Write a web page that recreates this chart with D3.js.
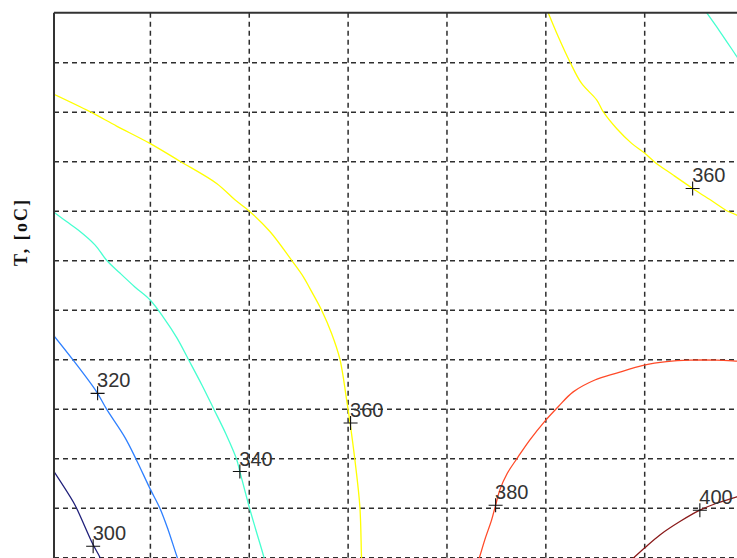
<!DOCTYPE html>
<html>
<head>
<meta charset="utf-8">
<script src="https://cdn.jsdelivr.net/npm/d3@7"></script>
<style>
  html, body { margin: 0; padding: 0; background: #ffffff; overflow: hidden; }
  svg { display: block; }
</style>
</head>
<body>
<svg id="chart" width="737" height="558"></svg>
<script>
// Contour levels and their colours (jet-like ramp)
const levels = [300, 320, 340, 360, 380, 400];
const levelColors = ["#1f1f7a", "#2f80ff", "#46ffd0", "#ffff00", "#ff4a28", "#8a1a1a"];

// Grid tick positions (axis units)
const xTicks = [1, 2, 3, 4, 5, 6, 7];
const yTicks = [-1, 0, 1, 2, 3, 4, 5, 6, 7, 8, 9, 10];

// Contour polylines, [x, y] in axis units
const contour300 = [[0.03, 1.73], [0.224, 1.12], [0.275, 0.92], [0.426, 0.25], [0.494, 0.0], [0.565, -0.36]];
const contour320 = [[0.03, 4.47], [0.224, 3.98], [0.461, 3.34], [0.562, 2.99], [0.747, 2.42], [0.865, 1.96],
                    [1.0, 1.39], [1.101, 0.99], [1.185, 0.55], [1.276, 0.0], [1.344, -0.36]];
const contour340a = [[0.03, 6.97], [0.157, 6.78], [0.275, 6.61], [0.444, 6.31], [0.562, 6.0], [0.697, 5.74],
                     [0.848, 5.46], [1.0, 5.2], [1.142, 4.83], [1.273, 4.43], [1.394, 3.98], [1.526, 3.48],
                     [1.647, 2.99], [1.769, 2.49], [1.877, 1.98], [1.91, 1.73], [2.004, 1.02], [2.072, 0.55],
                     [2.153, 0.0], [2.194, -0.36]];
const contour340b = [[6.631, 11.0], [6.766, 10.62], [6.938, 10.11], [7.07, 9.72]];
const contour360a = [[0.03, 9.35], [0.393, 9.0], [0.663, 8.71], [1.0, 8.36], [1.303, 8.0], [1.675, 7.55],
                     [1.86, 7.22], [2.001, 7.0], [2.214, 6.58], [2.433, 6.0], [2.551, 5.67], [2.618, 5.43],
                     [2.737, 4.99], [2.838, 4.52], [2.922, 4.0], [2.99, 3.18], [3.023, 2.74], [3.074, 1.96],
                     [3.124, 1.02], [3.141, -0.02], [3.15, -0.36]];
const contour360b = [[5.029, 11.0], [5.13, 10.52], [5.248, 10.01], [5.367, 9.57], [5.519, 9.24], [5.585, 9.0],
                     [5.721, 8.66], [5.873, 8.36], [6.0, 8.17], [6.108, 7.98], [6.293, 7.72], [6.49, 7.45],
                     [6.698, 7.18], [6.834, 7.0], [6.938, 6.91], [7.17, 6.65]];
const contour380 = [[4.277, -0.36], [4.331, -0.02], [4.394, 0.39], [4.456, 0.75], [4.497, 1.05], [4.54, 1.36],
                    [4.614, 1.69], [4.726, 2.03], [4.844, 2.37], [4.996, 2.75], [5.13, 3.04], [5.282, 3.34],
                    [5.501, 3.58], [5.721, 3.72], [6.0, 3.88], [6.227, 3.95], [6.462, 3.98], [6.732, 3.98],
                    [6.938, 3.96], [7.17, 3.93]];
const contour400 = [[5.694, -0.36], [5.889, -0.02], [6.0, 0.18], [6.159, 0.45], [6.361, 0.72], [6.563, 0.95],
                    [6.732, 1.09], [6.938, 1.22], [7.17, 1.36]];

const contourLines = [
  { level: 300, points: contour300 },
  { level: 320, points: contour320 },
  { level: 340, points: contour340a },
  { level: 340, points: contour340b },
  { level: 360, points: contour360a },
  { level: 360, points: contour360b },
  { level: 380, points: contour380 },
  { level: 400, points: contour400 }
];

// Inline contour labels: level and anchor point (axis units)
const labelLevels = [300, 320, 340, 360, 360, 380, 400];
const labelX = [0.426, 0.471, 1.91, 3.03, 6.49, 4.497, 6.563];
const labelY = [0.22, 3.31, 1.73, 2.71, 7.45, 1.05, 0.95];

const yAxisTitle = "T, [oC]";

const svg = d3.select("#chart");

const plotLeft = 54, plotTop = 12.7, unitX = 98.86, unitY = 49.5;
const x = d3.scaleLinear().domain([0.03, 8]).range([plotLeft, plotLeft + 7.97 * unitX]);
const y = d3.scaleLinear().domain([-1, 11]).range([plotTop + 12 * unitY, plotTop]);
const color = d3.scaleOrdinal().domain(levels).range(levelColors);

const plotW = x.range()[1] - plotLeft;
const plotH = y.range()[0] - plotTop;

svg.append("defs").append("clipPath").attr("id", "plotClip")
  .append("rect").attr("x", plotLeft).attr("y", plotTop).attr("width", plotW).attr("height", plotH);

// Dashed grid via axes with full-length ticks
const gridStyle = g => {
  g.select(".domain").remove();
  g.selectAll("text").remove();
  g.selectAll("line")
    .attr("stroke", "#2e2e2e")
    .attr("stroke-width", 1.5)
    .attr("stroke-dasharray", "5,4");
};

svg.append("g")
  .attr("transform", `translate(0,${plotTop})`)
  .call(d3.axisTop(x).tickValues(xTicks).tickSize(-plotH).tickFormat(""))
  .call(gridStyle);

svg.append("g")
  .attr("transform", `translate(${plotLeft},0)`)
  .call(d3.axisLeft(y).tickValues(yTicks).tickSize(-plotW).tickFormat(""))
  .call(gridStyle);

// Contour lines
const line = d3.line().x(d => x(d[0])).y(d => y(d[1])).curve(d3.curveCatmullRom.alpha(0.5));
svg.append("g").attr("clip-path", "url(#plotClip)")
  .selectAll("path")
  .data(contourLines)
  .join("path")
  .attr("d", d => line(d.points))
  .attr("fill", "none")
  .attr("stroke", d => color(d.level))
  .attr("stroke-width", 1.3);

// Axes box (top and left edges visible)
svg.append("line")
  .attr("x1", plotLeft).attr("x2", x.range()[1]).attr("y1", plotTop).attr("y2", plotTop)
  .attr("stroke", "#333").attr("stroke-width", 2);
svg.append("line")
  .attr("x1", plotLeft).attr("x2", plotLeft).attr("y1", plotTop).attr("y2", y.range()[0])
  .attr("stroke", "#333").attr("stroke-width", 2);

// Contour labels with '+' markers
const labels = labelLevels.map((lv, i) => ({ level: lv, x: labelX[i], y: labelY[i] }));
const lg = svg.append("g");
const mk = 7;
lg.selectAll("path.mark")
  .data(labels)
  .join("path")
  .attr("class", "mark")
  .attr("d", d => {
    const cx = x(d.x), cy = y(d.y);
    return `M${cx - mk},${cy}H${cx + mk}M${cx},${cy - mk}V${cy + mk}`;
  })
  .attr("stroke", "#111")
  .attr("stroke-width", 1.1)
  .attr("fill", "none");

lg.selectAll("text")
  .data(labels)
  .join("text")
  .attr("x", d => x(d.x) - 0.5)
  .attr("y", d => y(d.y) - 6)
  .attr("font-family", "'Liberation Sans', Arial, sans-serif")
  .attr("font-size", 20)
  .attr("fill", "#333")
  .text(d => d.level);

// Y axis title
svg.append("text")
  .attr("transform", "translate(26.5,233) rotate(-90)")
  .attr("text-anchor", "middle")
  .attr("font-family", "'Liberation Serif', 'Times New Roman', serif")
  .attr("font-weight", "bold")
  .attr("font-size", 18)
  .attr("fill", "#111")
  .attr("textLength", 66)
  .attr("lengthAdjust", "spacing")
  .text(yAxisTitle);
</script>
</body>
</html>
